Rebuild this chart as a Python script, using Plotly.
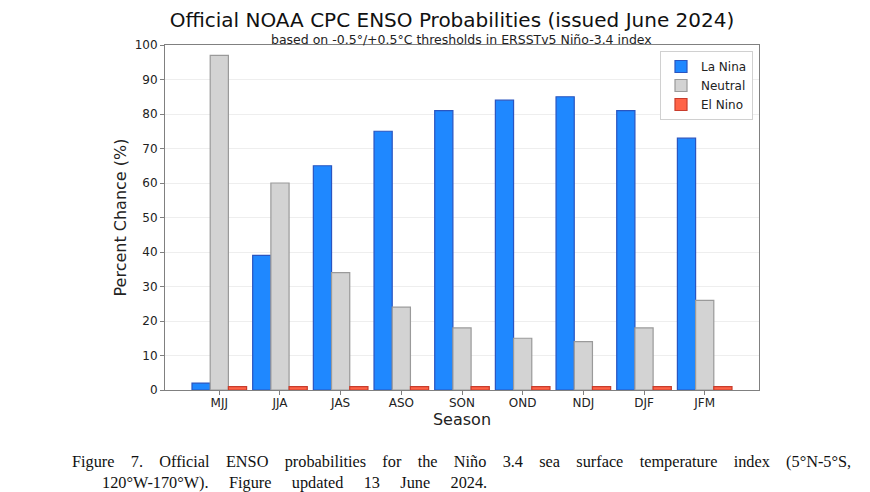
import plotly.graph_objects as go

seasons = ["MJJ", "JJA", "JAS", "ASO", "SON", "OND", "NDJ", "DJF", "JFM"]
la_nina = [2, 39, 65, 75, 81, 84, 85, 81, 73]
neutral = [97, 60, 34, 24, 18, 15, 14, 18, 26]
el_nino = [1, 1, 1, 1, 1, 1, 1, 1, 1]
y_ticks = [0, 10, 20, 30, 40, 50, 60, 70, 80, 90, 100]

title_text = "Official NOAA CPC ENSO Probabilities (issued June 2024)"
subtitle_text = "based on -0.5°/+0.5°C thresholds in ERSSTv5 Niño-3.4 index"
caption_line1 = "Figure 7. Official ENSO probabilities for the Niño 3.4 sea surface temperature index (5°N-5°S,"
caption_line2 = "120°W-170°W). Figure updated 13 June 2024."

# page has an 8px body margin: the figure starts at window (8, 8)
OFF = 8
W, H = 870 - OFF, 492 - OFF
L, T = 165 - OFF, 45 - OFF
pw, ph = 594, 345
R, B = W - L - pw, H - T - ph


def px_x(xw):
    return (xw - OFF - L) / pw


def px_y(yw):
    return (T + ph - (yw - OFF)) / ph


font = "DejaVu Sans"
serif = "Liberation Serif"
nb = "\u00a0"

fig = go.Figure()
fig.add_trace(go.Bar(x=seasons, y=la_nina, name="La Nina",
                     marker=dict(color="#1f88ff", line=dict(color="#2a55c0", width=1.2))))
fig.add_trace(go.Bar(x=seasons, y=neutral, name="Neutral",
                     marker=dict(color="#d3d3d3", line=dict(color="#9a9a9a", width=1.2))))
fig.add_trace(go.Bar(x=seasons, y=el_nino, name="El Nino",
                     marker=dict(color="#ff6347", line=dict(color="#c83c2c", width=1.2))))

fig.update_layout(
    width=W, height=H,
    margin=dict(l=L, r=R, t=T, b=B, autoexpand=False),
    paper_bgcolor="white", plot_bgcolor="white",
    barmode="group", bargap=0.1, bargroupgap=0,
    font=dict(family=font, color="#222222", size=12),
    title=dict(text=title_text,
               x=px_x(452), xref="paper", xanchor="center",
               y=1 - (20 - OFF) / H, yref="container", yanchor="middle",
               font=dict(family=font, size=20, color="#111111")),
    legend=dict(x=px_x(753), y=px_y(51), xanchor="right", yanchor="top",
                bgcolor="white", bordercolor="#d0d0d0", borderwidth=1,
                font=dict(family=font, size=12, color="#222222"),
                tracegroupgap=0),
    showlegend=True,
)
fig.update_xaxes(
    type="category", range=[-0.895, 8.895],
    showline=True, mirror=True, linecolor="#808080", linewidth=1,
    ticks="outside", ticklen=4, tickcolor="#808080", ticklabelstandoff=-2,
    tickfont=dict(family=font, size=12, color="#222222"),
    title=dict(text="Season", font=dict(family=font, size=16, color="#222222"), standoff=0),
    showgrid=False,
)
fig.update_yaxes(
    range=[0, 100], tickvals=y_ticks,
    showline=True, mirror=True, linecolor="#808080", linewidth=1,
    ticks="outside", ticklen=4, tickcolor="#808080",
    tickfont=dict(family=font, size=12, color="#222222"),
    title=dict(text="Percent Chance (%)", font=dict(family=font, size=16, color="#222222"), standoff=4),
    showgrid=True, gridcolor="#eeeeee", gridwidth=1, zeroline=False,
)

fig.add_annotation(text=subtitle_text,
                   x=px_x(461), y=px_y(39.5), xref="paper", yref="paper",
                   xanchor="center", yanchor="middle", showarrow=False,
                   font=dict(family=font, size=12.5, color="#222222"))

fig.add_annotation(text=caption_line1.replace(" ", nb * 4),
                   x=px_x(70), y=px_y(462), xref="paper", yref="paper",
                   xanchor="left", yanchor="middle", showarrow=False,
                   font=dict(family=serif, size=16.3, color="#111111"))
fig.add_annotation(text=caption_line2.replace(" ", nb * 5),
                   x=px_x(100), y=px_y(482), xref="paper", yref="paper",
                   xanchor="left", yanchor="middle", showarrow=False,
                   font=dict(family=serif, size=16.3, color="#111111"))

fig.write_html("out.html")
